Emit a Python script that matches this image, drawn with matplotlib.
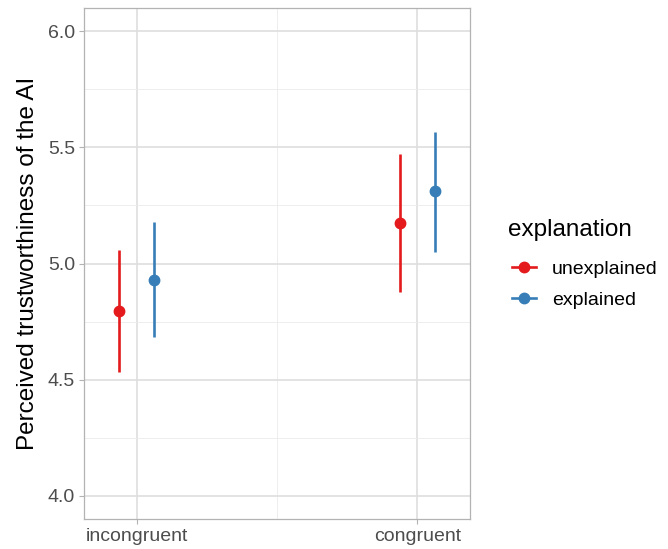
import matplotlib
matplotlib.use("Agg")
import matplotlib.pyplot as plt
from matplotlib.lines import Line2D
import numpy as np

plt.rcParams['font.family'] = ['Liberation Sans', 'DejaVu Sans']

categories = ["incongruent", "congruent"]
groups = ["unexplained", "explained"]
colors = ["#E41A1C", "#377EB8"]
means = {"unexplained": [4.797, 5.175], "explained": [4.929, 5.310]}
lower = {"unexplained": [4.534, 4.877], "explained": [4.685, 5.049]}
upper = {"unexplained": [5.058, 5.473], "explained": [5.178, 5.566]}
dodge = [-0.0625, 0.0625]

fig = plt.figure(figsize=(6.68, 5.49), dpi=100)
ax = fig.add_axes([84/668, 30/549, (470-84)/668, (519-8)/549])

x = np.arange(1, len(categories) + 1)
for g, c, d in zip(groups, colors, dodge):
    xs = x + d
    ax.vlines(xs, lower[g], upper[g], color=c, lw=1.9, zorder=3)
    ax.plot(xs, means[g], 'o', color=c, ms=7.5, zorder=4, linestyle='none')

ax.set_xlim(0.8125, 2.1875)
ax.set_ylim(3.9, 6.1)
ax.set_xticks(x)
ax.set_xticklabels(categories)
ax.set_yticks([4.0, 4.5, 5.0, 5.5, 6.0])
ax.set_yticklabels(["4.0", "4.5", "5.0", "5.5", "6.0"])
ax.set_xticks([1.5], minor=True)
ax.set_yticks([4.25, 4.75, 5.25, 5.75], minor=True)
ax.grid(which='major', color='#DEDEDE', lw=1.2, zorder=0)
ax.grid(which='minor', color='#EBEBEB', lw=0.6, zorder=0)
ax.set_axisbelow(True)
ax.tick_params(which='major', length=3.5, width=0.8, color='#B3B3B3',
               labelsize=14, labelcolor='#4D4D4D', pad=3)
ax.tick_params(which='minor', length=0)
for s in ax.spines.values():
    s.set_color('#B3B3B3')
    s.set_linewidth(0.9)
ax.set_ylabel("Perceived trustworthiness of the AI", fontsize=17.5, color='black', labelpad=6)

fig.text(508/668, 1 - 230/549, "explanation", fontsize=17.5, va='center', ha='left')
handles = [Line2D([0], [0], color=c, lw=1.9, marker='o', ms=7.5) for c in colors]
leg = fig.legend(handles, groups, loc='center left',
                 bbox_to_anchor=(494/668, 1 - 284.5/549), frameon=False,
                 fontsize=14, handlelength=1.25, borderpad=0.4,
                 handletextpad=0.82, labelspacing=0.7)

fig.savefig("out.png", dpi=100)
